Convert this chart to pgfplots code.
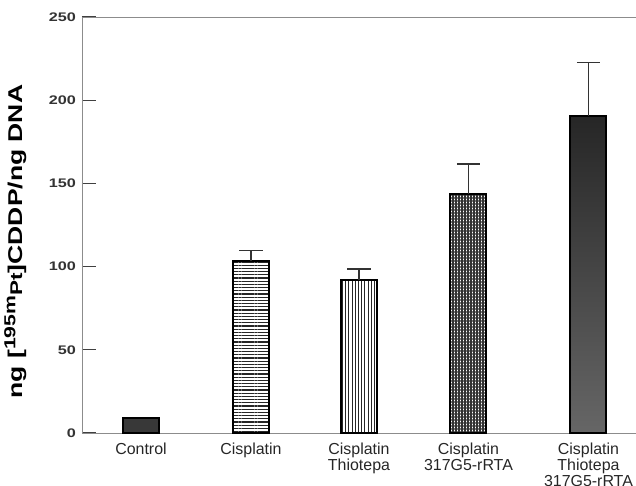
\documentclass[border=0pt]{standalone}
\usepackage{graphicx}
\usepackage{fontspec}
\setmainfont{Liberation Sans}
\usepackage{pgfplots}
\pgfplotsset{compat=1.18}
\usetikzlibrary{patterns,patterns.meta}

% wide tick digits, as in the scan
\newcommand{\tl}[1]{\scalebox{1.3}[1]{#1}}

\begin{document}
\begin{tikzpicture}
\useasboundingbox (-82bp,-53bp) rectangle (554bp,433bp);
\clip (-82bp,-53bp) rectangle (554bp,433bp);
\begin{axis}[
    at={(0,0)}, anchor=south west,
    scale only axis, width=580bp, height=416bp,
    xmin=82, xmax=662, ymin=0, ymax=250,
    axis line style={black!45, line width=0.8bp},
    ytick={0,50,100,150,200,250},
    yticklabels={\tl{0},\tl{50},\tl{100},\tl{150},\tl{200},\tl{250}},
    yticklabel style={font=\bfseries\fontsize{12.5}{13}\selectfont, text=black!80,
        inner sep=0pt, xshift=-6bp},
    tick align=inside, ytick pos=left,
    major tick length=14bp,
    ytick style={draw=black!75, line width=1.1bp},
    xtick={141,251,359,468.5,588.5},
    xticklabels={Control, Cisplatin, {Cisplatin\\Thiotepa}, {Cisplatin\\317G5-rRTA},
        {Cisplatin\\Thiotepa\\317G5-rRTA}},
    xticklabel style={font=\fontsize{16}{16}\selectfont, text=black!85,
        align=center, inner sep=0pt, yshift=4bp},
    xtick style={draw=none},
    ylabel={\scalebox{1.33}[1]{\bfseries\fontsize{20}{20}\selectfont
        ng [\raisebox{0.35em}{\fontsize{16}{16}\selectfont 195m}{\fontsize{17}{17}\selectfont Pt}]CDDP/ng DNA}},
    ylabel style={at={(axis description cs:-0.115,0.46)}, anchor=center},
    ybar, bar width=36,
    error bars/y dir=plus, error bars/y explicit,
    error bars/error bar style={black!80, line width=1.2bp},
    error bars/error mark options={rotate=90, black!80, line width=1.2bp, mark size=11.5bp},
]
% Control
\addplot[bar shift=0pt, draw=black, line width=2bp, fill=black!78]
    coordinates {(141,8.8)};
% Cisplatin
\addplot[bar shift=0pt, draw=black, line width=2bp,
    pattern={Lines[angle=0,distance=3.2bp,line width=1.1bp]}, pattern color=black!85]
    coordinates {(251,103.5) +- (0,6.1)};
% Cisplatin + Thiotepa
\addplot[bar shift=0pt, draw=black, line width=2bp,
    pattern={Lines[angle=90,distance=3.2bp,line width=1bp]}, pattern color=black!85]
    coordinates {(359,91.8) +- (0,6.8)};
% Cisplatin + 317G5-rRTA
\addplot[bar shift=0pt, draw=black, line width=2bp,
    pattern={Hatch[angle=0,distance=3bp,line width=1.2bp]}, pattern color=black!80]
    coordinates {(468.5,143.6) +- (0,18.1)};
% Cisplatin + Thiotepa + 317G5-rRTA
\addplot[bar shift=0pt, draw=black, line width=2bp,
    top color=black!85, bottom color=black!60]
    coordinates {(588.5,190.5) +- (0,32)};
\end{axis}
\end{tikzpicture}
\end{document}
